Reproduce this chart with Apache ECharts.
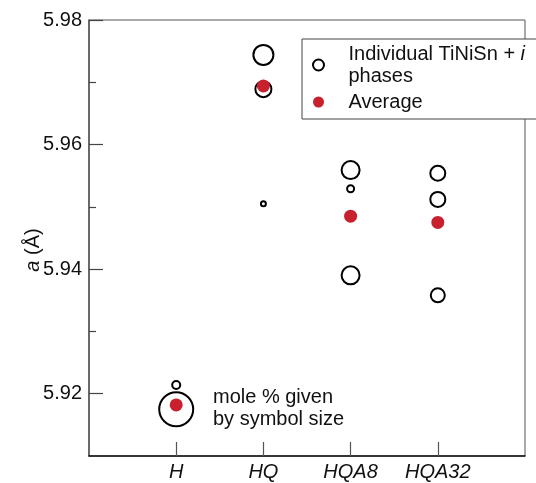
<!DOCTYPE html>
<html>
<head>
<meta charset="utf-8">
<script src="https://cdn.jsdelivr.net/npm/echarts@6/dist/echarts.min.js"></script>
<style>
  html, body { margin: 0; padding: 0; background: #fff; }
  #chart { width: 536px; height: 483px; }
</style>
</head>
<body>
<div id="chart"></div>
<script>
// sample names on the x axis (positions 1..4)
const categories = ["H", "HQ", "HQA8", "HQA32"];
const yTickLabels = [5.92, 5.94, 5.96, 5.98];
const yMinorTicks = [5.93, 5.95, 5.97];

// individual TiNiSn + i phases: sample index, lattice parameter, symbol size (mole %)
const phaseCat = [0, 0, 1, 1, 1, 2, 2, 2, 3, 3, 3];
const phaseA = [5.9214, 5.9175, 5.9744, 5.9689, 5.9505, 5.9559, 5.9529, 5.939, 5.9554, 5.9512, 5.9358];
const phaseSize = [8, 34, 20, 16, 5, 18, 7, 18, 15, 15, 14];

// averages per sample
const avgCat = [0, 1, 2, 3];
const avgA = [5.9182, 5.9694, 5.9485, 5.9475];

const font = "Liberation Sans";
const chart = echarts.init(document.getElementById("chart"));

chart.setOption({
  animation: false,
  textStyle: { fontFamily: font },
  grid: {
    left: 89,
    top: 20,
    right: 11,
    bottom: 27,
    show: true,
    borderColor: "#555",
    borderWidth: 1,
  },
  legend: {
    left: 302,
    top: 39,
    orient: "vertical",
    padding: [4, 30, 6, 10],
    itemWidth: 22,
    itemHeight: 11,
    itemGap: 4,
    borderColor: "#444",
    borderWidth: 1,
    borderRadius: 0,
    backgroundColor: "#fff",
    textStyle: {
      fontFamily: font,
      fontSize: 20,
      lineHeight: 22,
      color: "#111",
      padding: [0, 0, 0, 14],
      rich: {
        it: { fontFamily: font, fontSize: 20, fontStyle: "italic", color: "#111" },
      },
    },
    formatter: function (name) {
      if (name === "Individual") return "Individual TiNiSn + {it|i}\nphases";
      return name;
    },
    data: ["Individual", "Average"],
  },
  xAxis: {
    type: "value",
    min: 0,
    max: 5,
    splitLine: { show: false },
    axisLine: { lineStyle: { color: "#111", width: 1.5 } },
    axisTick: {
      inside: true,
      length: 14,
      customValues: [1, 2, 3, 4],
      lineStyle: { color: "#555", width: 1.2 },
    },
    axisLabel: {
      customValues: [1, 2, 3, 4],
      formatter: (v) => categories[v - 1],
      fontSize: 20,
      fontStyle: "italic",
      color: "#111",
      margin: 6,
    },
  },
  yAxis: [
    {
      type: "value",
      min: 5.91,
      max: 5.98,
      name: "{it|a} (Å)",
      nameLocation: "middle",
      nameRotate: 90,
      nameGap: 46,
      nameMoveOverlap: false,
      nameTextStyle: {
        fontSize: 20,
        color: "#111",
        padding: [0, 24, 0, 0],
        rich: { it: { fontSize: 20, fontStyle: "italic", color: "#111" } },
      },
      splitLine: { show: false },
      axisLine: { lineStyle: { color: "#555", width: 1.5 } },
      axisTick: {
        inside: true,
        length: 14,
        customValues: yTickLabels,
        lineStyle: { color: "#444", width: 1.2 },
      },
      axisLabel: {
        customValues: yTickLabels,
        formatter: (v) => v.toFixed(2),
        fontSize: 20,
        color: "#111",
        margin: 7,
      },
    },
    {
      // minor ticks only
      type: "value",
      position: "left",
      min: 5.91,
      max: 5.98,
      splitLine: { show: false },
      axisLine: { show: false },
      axisLabel: { show: false },
      axisTick: {
        inside: true,
        length: 7,
        customValues: yMinorTicks,
        lineStyle: { color: "#444", width: 1.2 },
      },
    },
  ],
  series: [
    {
      name: "Individual",
      type: "scatter",
      symbol: "circle",
      data: phaseCat.map((c, i) => [c + 1, phaseA[i]]),
      symbolSize: (val, params) => phaseSize[params.dataIndex],
      itemStyle: { color: "rgba(0,0,0,0)", borderColor: "#000", borderWidth: 2, opacity: 1 },
      emphasis: { disabled: true },
    },
    {
      name: "Average",
      type: "scatter",
      symbol: "circle",
      data: avgCat.map((c, i) => [c + 1, avgA[i]]),
      symbolSize: 13,
      itemStyle: { color: "#c8202c", opacity: 1 },
      emphasis: { disabled: true },
    },
  ],
  graphic: [
    {
      type: "text",
      left: 213,
      top: 386,
      style: {
        text: "mole % given\nby symbol size",
        font: "20px " + font,
        lineHeight: 22,
        fill: "#111",
      },
    },
  ],
});
</script>
</body>
</html>
